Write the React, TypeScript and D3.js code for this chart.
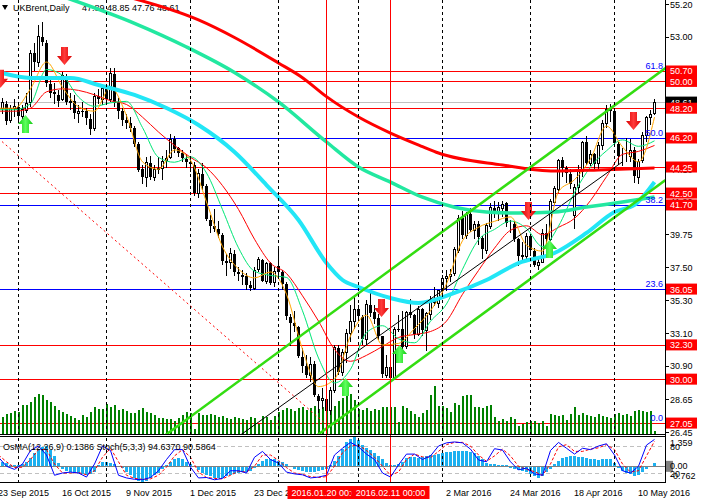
import React from "react";
import * as d3 from "d3";

// daily bars, UKBrent, 24 Sep 2015 .. 16 May 2016 (index 0 = first visible bar)
const opens = [
  47.7, 48.2, 48.5, 47.4, 48.2, 48.3, 47.7, 48.1, 48.6, 51.9,
  51.3, 53.0, 52.6, 49.8, 49.3, 49.1, 48.8, 50.3, 48.6, 48.7,
  47.9, 48.0, 48.0, 47.5, 46.9, 49.0, 48.8, 49.5, 48.8, 50.5,
  48.6, 48.0, 47.4, 47.2, 46.9, 45.8, 44.1, 43.6, 44.5, 43.6,
  44.1, 44.2, 44.7, 44.9, 46.1, 45.5, 45.2, 44.8, 44.6, 44.4,
  42.5, 43.8, 43.0, 40.7, 40.3, 40.1, 39.7, 37.9, 37.9, 38.4,
  37.2, 37.0, 36.9, 36.3, 36.1, 37.4, 38.0, 36.6, 37.8, 36.5,
  37.6, 37.2, 36.4, 34.2, 33.8, 33.5, 31.5, 30.9, 30.3, 31.0,
  28.9, 28.6, 28.7, 27.9, 29.3, 32.1, 30.5, 31.8, 33.1, 33.9,
  34.7, 34.2, 32.7, 35.0, 34.5, 34.1, 32.9, 30.3, 30.8, 30.1,
  33.4, 33.4, 32.2, 34.5, 34.3, 33.0, 34.7, 33.3, 34.4, 35.3,
  35.1, 36.0, 36.8, 36.9, 37.1, 38.7, 40.8, 39.7, 41.1, 40.0,
  40.4, 39.5, 38.7, 40.3, 41.5, 41.2, 41.5, 41.8, 40.4, 40.4,
  39.4, 38.3, 38.3, 39.6, 38.6, 37.7, 37.9, 39.8, 39.4, 41.9,
  42.8, 44.7, 44.2, 43.8, 41.0, 42.9, 44.0, 45.9, 44.5, 45.1,
  44.5, 45.7, 47.2, 48.1, 48.0, 45.8, 45.0, 45.0, 45.0, 45.4,
  43.6, 44.7, 46.4, 47.6, 47.89,
];
const highs = [
  48.4, 48.9, 48.7, 48.4, 48.8, 48.6, 48.4, 49.2, 52.1, 52.6,
  53.8, 54.0, 52.8, 50.3, 49.9, 49.4, 50.6, 50.5, 49.2, 49.1,
  48.4, 48.6, 48.2, 47.8, 49.2, 49.5, 49.7, 49.8, 50.9, 50.9,
  48.9, 48.2, 47.8, 47.6, 47.0, 45.9, 44.4, 44.9, 45.0, 44.4,
  44.9, 45.0, 45.4, 46.5, 46.3, 45.6, 45.4, 45.1, 44.8, 44.6,
  44.1, 44.5, 43.1, 41.0, 41.4, 40.6, 39.8, 38.4, 38.8, 38.7,
  37.5, 37.3, 37.1, 36.6, 37.5, 38.2, 38.1, 37.9, 37.9, 37.5,
  38.9, 37.3, 36.5, 34.4, 34.6, 33.6, 32.1, 31.6, 31.5, 31.2,
  29.0, 29.4, 28.9, 29.5, 32.3, 32.3, 32.0, 33.4, 35.0, 35.5,
  35.0, 34.3, 35.3, 35.8, 35.0, 34.4, 32.9, 31.6, 31.2, 33.5,
  34.3, 34.6, 34.6, 35.4, 34.4, 34.9, 34.8, 34.5, 35.6, 36.2,
  36.0, 37.0, 37.3, 37.4, 38.9, 41.0, 41.3, 41.2, 41.5, 40.6,
  40.6, 39.6, 40.5, 41.8, 42.0, 41.9, 42.0, 41.9, 40.7, 40.6,
  39.5, 39.2, 39.8, 39.7, 38.8, 38.2, 40.1, 40.4, 42.1, 43.0,
  44.8, 44.9, 44.3, 44.1, 43.1, 44.4, 46.0, 46.3, 45.4, 45.2,
  45.9, 47.4, 48.4, 48.5, 48.1, 45.9, 45.5, 46.2, 46.1, 45.6,
  44.8, 46.6, 47.7, 48.1, 48.85,
];
const lows = [
  47.1, 47.8, 47.1, 47.2, 47.6, 47.4, 47.3, 47.9, 48.3, 50.7,
  51.0, 52.4, 49.6, 48.9, 48.5, 48.3, 48.7, 48.4, 48.1, 47.5,
  47.2, 47.6, 47.1, 46.4, 46.7, 48.5, 48.4, 48.5, 48.6, 48.3,
  47.5, 47.0, 46.8, 46.6, 45.6, 43.9, 43.1, 42.9, 43.4, 43.3,
  43.8, 43.4, 44.2, 44.8, 45.2, 44.9, 44.6, 44.2, 43.9, 42.3,
  42.2, 42.7, 40.6, 39.8, 39.9, 39.5, 37.7, 36.9, 37.4, 36.9,
  36.6, 36.3, 36.0, 35.9, 36.0, 37.2, 36.5, 36.4, 36.3, 36.2,
  36.8, 36.0, 34.0, 32.2, 33.2, 31.4, 30.4, 30.1, 29.8, 28.8,
  27.7, 28.0, 27.1, 27.6, 29.1, 30.3, 30.2, 31.1, 32.5, 33.4,
  33.9, 32.3, 32.3, 34.2, 33.7, 32.6, 30.1, 30.1, 30.0, 30.0,
  33.2, 31.9, 32.0, 34.1, 32.7, 32.9, 32.9, 31.9, 34.0, 34.9,
  34.8, 35.6, 35.9, 36.5, 36.9, 38.5, 39.4, 39.4, 39.9, 39.4,
  39.0, 38.1, 38.4, 40.1, 40.8, 40.6, 40.9, 40.2, 39.8, 39.2,
  37.6, 38.0, 38.0, 38.3, 37.5, 37.3, 37.8, 39.1, 39.3, 41.7,
  42.5, 43.6, 43.2, 42.8, 40.1, 42.5, 43.6, 44.4, 44.3, 44.0,
  44.1, 45.4, 46.9, 47.3, 45.7, 44.4, 44.3, 44.6, 44.6, 43.2,
  43.1, 44.5, 45.9, 47.1, 47.76,
];
const closes = [
  48.17, 48.60, 47.34, 48.23, 48.37, 47.69, 48.13, 48.53, 51.92, 51.33,
  53.05, 52.65, 49.86, 49.24, 49.15, 48.71, 50.46, 48.61, 48.71, 47.85,
  47.99, 47.99, 47.54, 46.81, 49.05, 48.80, 49.56, 48.79, 50.54, 48.58,
  47.98, 47.42, 47.19, 46.90, 45.81, 44.06, 43.61, 44.56, 43.57, 44.14,
  44.18, 44.66, 44.83, 46.12, 45.46, 45.20, 44.86, 44.61, 44.44, 42.49,
  43.84, 43.00, 40.73, 40.26, 40.11, 39.73, 37.93, 37.92, 38.45, 37.19,
  37.06, 36.88, 36.35, 36.11, 37.36, 38.10, 36.62, 37.79, 36.46, 37.28,
  37.22, 36.42, 34.23, 33.75, 33.55, 31.55, 30.86, 30.31, 31.03, 28.94,
  28.55, 28.76, 27.88, 29.25, 32.18, 30.50, 31.80, 33.10, 33.89, 34.74,
  34.24, 32.72, 35.04, 34.46, 34.06, 32.88, 30.32, 30.84, 30.06, 33.36,
  33.39, 32.18, 34.50, 34.28, 33.01, 34.69, 33.27, 34.41, 35.29, 35.10,
  35.97, 36.81, 36.93, 37.07, 38.72, 40.84, 39.65, 41.07, 40.05, 40.39,
  39.53, 38.74, 40.33, 41.54, 41.20, 41.54, 41.79, 40.47, 40.44, 39.39,
  38.29, 38.32, 39.60, 38.67, 37.69, 37.87, 39.84, 39.43, 41.94, 42.83,
  44.69, 44.18, 43.84, 43.10, 42.91, 44.03, 45.90, 44.53, 45.11, 44.48,
  45.74, 47.18, 48.14, 48.13, 45.83, 44.97, 45.01, 45.01, 45.37, 43.63,
  44.66, 46.41, 47.59, 47.83, 48.61,
];
const volumes = [
  16, 17, 20, 21, 23, 22, 29, 29, 32, 37,
  40, 39, 34, 32, 28, 24, 22, 20, 18, 16,
  14, 19, 17, 22, 27, 25, 25, 30, 27, 29,
  24, 25, 23, 21, 21, 24, 26, 22, 21, 19,
  16, 16, 15, 15, 13, 16, 19, 22, 21, 5,
  21, 19, 19, 20, 19, 17, 18, 16, 15, 17,
  16, 15, 14, 17, 16, 10, 18, 17, 14, 18,
  22, 24, 26, 25, 23, 26, 27, 24, 26, 28,
  25, 27, 29, 30, 28, 33, 36, 38, 40, 34,
  25, 24, 26, 23, 25, 24, 27, 27, 27, 27,
  12, 28, 26, 23, 20, 17, 21, 24, 39, 48,
  28, 28, 26, 22, 31, 29, 38, 39, 39, 27,
  27, 26, 28, 29, 17, 13, 15, 13, 17, 15,
  8, 10, 12, 13, 13, 11, 13, 8, 20, 19,
  18, 19, 14, 20, 27, 19, 21, 19, 18, 17,
  20, 18, 17, 16, 20, 21, 19, 20, 18, 23,
  24, 23, 22, 23, 3,
];
const osmaValues = [
  0.19, 0.19, 0.15, 0.05, 0.02, 0.02, 0.1, 0.2, 0.35, 0.6,
  0.8, 0.9, 0.95, 0.75, 0.45, 0.15, -0.15, -0.25, -0.3, -0.35,
  -0.35, -0.4, -0.45, -0.4, -0.3, 0.05, 0.2, 0.2, 0.15, 0.1,
  0.0, -0.1, -0.3, -0.45, -0.55, -0.7, -0.76, -0.7, -0.55, -0.45,
  -0.35, -0.15, 0.05, 0.2, 0.3, 0.35, 0.3, 0.2, 0.1, -0.05,
  -0.2, -0.35, -0.45, -0.5, -0.55, -0.55, -0.55, -0.5, -0.45, -0.4,
  -0.35, -0.3, -0.3, -0.25, -0.1, 0.1, 0.25, 0.3, 0.3, 0.3,
  0.25, 0.2, 0.1, -0.05, -0.15, -0.2, -0.25, -0.3, -0.3, -0.3,
  -0.25, -0.2, -0.15, 0.05, 0.25, 0.45, 0.8, 1.1, 1.25, 1.359,
  1.2, 1.0, 0.85, 0.75, 0.6, 0.45, 0.3, 0.15, 0.05, 0.02,
  0.1, 0.2, 0.35, 0.4, 0.4, 0.35, 0.4, 0.45, 0.5, 0.5,
  0.55, 0.6, 0.65, 0.65, 0.7, 0.72, 0.72, 0.7, 0.65, 0.6,
  0.45, 0.3, 0.15, 0.1, 0.08, 0.06, 0.05, 0.02, -0.1, -0.15,
  -0.2, -0.25, -0.3, -0.4, -0.5, -0.55, -0.5, -0.3, -0.15, 0.1,
  0.25, 0.35, 0.4, 0.45, 0.45, 0.42, 0.4, 0.35, 0.33, 0.3,
  0.28, 0.3, 0.32, 0.3, 0.15, -0.1, -0.25, -0.35, -0.4, -0.5,
  -0.45, -0.3, -0.15, -0.05, 0.14,
];
// stochastic, read every 2nd bar
const stochStep = 2;
const stochMain = [
  55, 35, 28, 40, 70, 80, 60, 15, 20, 22, 20, 11, 40, 80, 70, 15, 9, 6, 5, 10,
  25, 50, 72, 72, 33, 9, 10, 5, 8, 25, 25, 20, 55, 68, 50, 42, 22, 18, 16, 9,
  11, 15, 60, 75, 88, 78, 62, 50, 20, 11, 38, 62, 62, 50, 58, 80, 87, 89, 87, 73,
  49, 45, 74, 71, 45, 27, 31, 18, 15, 70, 88, 75, 62, 75, 72, 80, 85, 60, 25, 20,
  35, 82, 94.6,
];
const stochSignal = [
  60, 45, 32, 33, 50, 72, 72, 40, 20, 20, 21, 16, 25, 55, 75, 45, 15, 8, 6, 7,
  15, 33, 58, 72, 55, 22, 10, 8, 7, 15, 24, 22, 35, 60, 60, 48, 32, 20, 17, 12,
  10, 12, 35, 65, 80, 82, 70, 55, 35, 15, 22, 50, 62, 56, 54, 68, 83, 88, 88, 80,
  60, 46, 58, 73, 58, 35, 28, 23, 15, 40, 78, 83, 68, 68, 73, 76, 83, 72, 40, 22,
  25, 58, 90.6,
];
// thin moving averages, read every 4th bar
const fastStep = 4;
const maOrange = [
  48.2, 48.2, 49.5, 51.3, 49.6, 48.3, 48.0, 49.6, 47.7, 44.6, 44.1, 45.4, 44.7, 41.9,
  38.9, 37.4, 36.8, 37.2, 35.7, 32.0, 29.5, 30.0, 32.9, 34.3, 32.3, 32.4, 33.4, 34.6,
  36.4, 39.3, 40.2, 40.6, 40.9, 39.0, 38.6, 42.6, 43.4, 44.8, 47.0, 45.6, 44.6, 47.6,
];
const maGreen = [
  48.1, 48.1, 48.5, 50.8, 50.4, 48.95, 48.33, 48.56, 48.66, 46.9, 44.9, 44.57, 44.93, 43.85,
  41.39, 38.82, 37.25, 36.97, 36.83, 34.59, 31.42, 29.75, 30.66, 33.13, 33.59, 32.71, 32.44, 33.89,
  35.05, 37.38, 39.36, 40.06, 40.62, 40.12, 38.9, 40.28, 42.53, 44.25, 45.34, 46.07, 45.64, 46.01,
];
const maRedThin = [
  48.0, 48.0, 48.2, 49.3, 49.5, 49.4, 49.1, 48.7, 48.45, 47.6, 46.6, 45.7, 44.9, 44.2,
  43.0, 41.4, 39.4, 37.8, 37.1, 35.6, 33.9, 32.0, 31.2, 31.6, 32.2, 32.8, 33.0, 33.2,
  33.9, 35.7, 37.3, 38.8, 40.0, 40.3, 39.7, 40.2, 40.8, 42.0, 43.6, 45.1, 45.3, 45.7,
];
// thick moving averages, read at bar positions
const ma200Idx = [32, 50, 59, 70, 76, 82, 90, 98, 106, 110, 126, 139, 150, 164];
const ma200Val = [55.7, 54.13, 52.95, 51.24, 50.25, 48.98, 47.61, 46.53, 45.62, 45.19, 44.39, 43.98, 44.05, 44.18];
const ma100Idx = [15, 34, 47, 59, 70, 82, 90, 98, 106, 114, 122, 130, 139, 147, 156, 164];
const ma100Val = [55.8, 53.9, 52.31, 50.6, 48.62, 45.93, 44.25, 43.24, 42.22, 41.55, 41.23, 41.16, 41.23, 41.56, 41.9, 42.24];
const ma50Idx = [0, 8, 18, 25, 34, 42, 50, 59, 67, 75, 82, 86, 90, 98, 105, 114, 122, 130, 139, 147, 154, 159, 164];
const ma50Val = [50.63, 50.23, 50.23, 49.76, 49.09, 48.21, 47.07, 45.26, 43.04, 40.69, 37.8, 36.66, 36.19, 35.45, 35.12, 35.79, 36.66, 37.8, 38.47, 39.82, 41.23, 41.7, 43.24];

// drawn objects (bar index, price)
const channelUpper = [[41.75, 26.25], [166.75, 50.9]];
const channelLower = [[79.75, 26.25], [166.75, 43.38]];
const blackTrend = [[60.5, 26.25], [156, 44.6]];
const redTrend = [[-1, 46.4], [81.25, 27.12]];
const redLevels = [50.7, 50.0, 48.2, 44.25, 42.5, 32.3, 30.0, 27.05];
const levelLabels = [50.7, 50.0, 48.2, 46.2, 44.25, 42.5, 41.7, 36.05, 32.3, 30.0, 27.05];
const fibNames = ["61.8", "50.0", "38.2", "23.6", "0.0"];
const fibPrices = [50.7, 46.2, 41.7, 36.05, 27.05];
const bidPrice = 48.61;
const priceTicks = [55.2, 53.0, 50.75, 48.55, 46.3, 44.1, 41.9, 39.75, 37.5, 35.3, 33.1, 30.9, 28.65, 26.45];
const arrowIdx = [0.5, 6.75, 16.5, 86.75, 95.75, 100.25, 132.5, 137.75, 158.75];
const arrowPrice = [49.57, 47.74, 51.1, 30.08, 34.17, 32.3, 40.69, 39.35, 46.74];
const arrowUp = [false, true, false, true, false, true, false, true, false];
const monthStarts = [5, 27, 48, 70, 90, 111, 133, 154];
const dateTickIdx = [0, 16, 32, 48, 64, 112, 128, 144, 160];
const dateTickText = ["23 Sep 2015", "16 Oct 2015", "9 Nov 2015", "1 Dec 2015", "23 Dec 2015",
  "2 Mar 2016", "24 Mar 2016", "18 Apr 2016", "10 May 2016"];
const markerIdx = [82, 98];
const markerText = ["2016.01.20 00:00", "2016.02.11 00:00"];

const W = 702, H = 503;
const RIGHT = 665;
const MAIN_BOTTOM = 434;
const SUB_TOP = 437, SUB_BOTTOM = 482;
const FONT = "'Liberation Sans', Arial, sans-serif";

const x = d3.scaleLinear().domain([0, 164]).range([-2, 654]);
const yP = d3.scaleLinear().domain([26.45, 55.2]).range([432, 4]);
const yV = d3.scaleLinear().domain([0, 50]).range([434, 384]);
const yO = d3.scaleLinear().domain([-0.762, 1.359]).range([SUB_BOTTOM, SUB_TOP]);
const yS = d3.scaleLinear().domain([0, 100]).range([SUB_BOTTOM, SUB_TOP]);

const smooth = d3.line<number[]>().x(d => x(d[0]) + 0.5).y(d => yP(d[1])).curve(d3.curveMonotoneX);
const straight = d3.line<number[]>().x(d => x(d[0]) + 0.5).y(d => yP(d[1]));
const stochLine = d3.line<number[]>().x(d => x(d[0]) + 0.5).y(d => yS(d[1]));

const pairs = (idx: number[], val: number[]) => idx.map((v, k) => [v, val[k]]);
const stepped = (vals: number[], step: number) => vals.map((v, k) => [k * step, v]);
const crisp = (v: number) => Math.round(v) + 0.5;

function Arrow({ i, p, up }: { i: number; p: number; up: boolean }) {
  const cx = x(i) + 0.5;
  const ty = yP(p);
  const s = up ? 1 : -1;
  const pts = [[0, 0], [-7.5, 9], [-3.5, 9], [-3.5, 18], [3.5, 18], [3.5, 9], [7.5, 9]]
    .map(q => `${cx + q[0]},${ty + s * q[1]}`).join(" ");
  return <polygon points={pts} fill={up ? "url(#gArrow)" : "url(#rArrow)"} />;
}

export default function App() {
  const n = closes.length;
  const bars = d3.range(n);
  return (
    <svg width={W} height={H} style={{ position: "absolute", left: 0, top: 0, background: "#fff" }}
      fontFamily={FONT} fontSize={9}>
      <defs>
        <clipPath id="mainClip"><rect x={0} y={0} width={RIGHT} height={MAIN_BOTTOM} /></clipPath>
        <clipPath id="subClip"><rect x={0} y={SUB_TOP} width={RIGHT} height={SUB_BOTTOM - SUB_TOP} /></clipPath>
        <linearGradient id="rArrow" x1="0" x2="1" y1="0" y2="0">
          <stop offset="0" stopColor="#d80000" /><stop offset="0.5" stopColor="#ff3a3a" /><stop offset="1" stopColor="#d80000" />
        </linearGradient>
        <linearGradient id="gArrow" x1="0" x2="1" y1="0" y2="0">
          <stop offset="0" stopColor="#10c810" /><stop offset="0.5" stopColor="#5cff5c" /><stop offset="1" stopColor="#10c810" />
        </linearGradient>
      </defs>

      {/* header */}
      <polygon points="2,5 8,5 5,10" fill="#000" />
      <text x={13} y={11} fill="#000">UKBrent,Daily</text>
      <text x={82} y={11} fill="#000">47.89 48.85 47.76 48.61</text>

      <g clipPath="url(#mainClip)">
        {/* horizontal levels */}
        {fibPrices.map((p, k) => (
          <line key={"fb" + k} x1={0} x2={RIGHT} y1={crisp(yP(p))} y2={crisp(yP(p))} stroke="#0000ff" />
        ))}
        <line x1={0} x2={RIGHT} y1={crisp(yP(bidPrice))} y2={crisp(yP(bidPrice))} stroke="#c0c0c0" />
        {redLevels.map((p, k) => (
          <line key={"rl" + k} x1={0} x2={RIGHT} y1={crisp(yP(p))} y2={crisp(yP(p))} stroke="#ff0000" />
        ))}

        {/* volumes */}
        {bars.map(i => (
          <rect key={"v" + i} x={x(i)} y={yV(volumes[i])} width={2} height={yV(0) - yV(volumes[i])}
            fill="#008000" shapeRendering="crispEdges" />
        ))}

        {/* candles */}
        {bars.map(i => {
          const X = x(i);
          const o = yP(opens[i]), c = yP(closes[i]);
          const up = closes[i] >= opens[i];
          const top = Math.round(Math.min(o, c)), bot = Math.round(Math.max(o, c));
          return (
            <g key={"c" + i} shapeRendering="crispEdges">
              <line x1={X + 0.5} x2={X + 0.5} y1={Math.round(yP(highs[i]))} y2={Math.round(yP(lows[i]))} stroke="#000" />
              {up
                ? <rect x={X - 0.5} y={top + 0.5} width={2} height={Math.max(bot - top, 0)} fill="#fff" stroke="#000" />
                : <rect x={X - 1} y={top} width={3} height={Math.max(bot - top, 1)} fill="#000" />}
            </g>
          );
        })}

        {/* thin moving averages */}
        <path d={smooth(stepped(maRedThin, fastStep)) || ""} fill="none" stroke="#ff0000" strokeWidth={1} />
        <path d={smooth(stepped(maGreen, fastStep)) || ""} fill="none" stroke="#00e676" strokeWidth={1} />
        <path d={smooth(stepped(maOrange, fastStep)) || ""} fill="none" stroke="#ffa500" strokeWidth={1} />

        {/* thick moving averages */}
        <path d={smooth(pairs(ma50Idx, ma50Val)) || ""} fill="none" stroke="#22e6f6" strokeWidth={4} />
        <path d={smooth(pairs(ma100Idx, ma100Val)) || ""} fill="none" stroke="#22e8a0" strokeWidth={3.5} />
        <path d={smooth(pairs(ma200Idx, ma200Val)) || ""} fill="none" stroke="#ff0000" strokeWidth={3} />

        {/* trend lines */}
        <path d={straight(redTrend) || ""} fill="none" stroke="#ff0000" strokeDasharray="2,3" />
        <path d={straight(blackTrend) || ""} fill="none" stroke="#000" strokeWidth={1} />
        <path d={straight(channelUpper) || ""} fill="none" stroke="#33dd11" strokeWidth={2.5} />
        <path d={straight(channelLower) || ""} fill="none" stroke="#33dd11" strokeWidth={2.5} />

        {/* signal arrows */}
        {arrowIdx.map((i, k) => <Arrow key={"a" + k} i={i} p={arrowPrice[k]} up={arrowUp[k]} />)}

        {/* fibo labels */}
        {fibNames.map((t, k) => (
          <text key={"ft" + k} x={663} y={yP(fibPrices[k]) - 2} textAnchor="end" fill="#0000ff">{t}</text>
        ))}
      </g>

      {/* oscillator pane */}
      <g clipPath="url(#subClip)">
        <line x1={0} x2={RIGHT} y1={crisp(yS(80))} y2={crisp(yS(80))} stroke="#c0c0c0" strokeDasharray="4,3" />
        <line x1={0} x2={RIGHT} y1={crisp(yS(20))} y2={crisp(yS(20))} stroke="#c0c0c0" strokeDasharray="4,3" />
        {bars.map(i => {
          const v = osmaValues[i];
          const y0 = yO(0), y1 = yO(v);
          return (
            <rect key={"o" + i} x={x(i) - 1} y={Math.min(y0, y1)} width={3} height={Math.abs(y1 - y0)}
              fill="#1cb0f0" shapeRendering="crispEdges" />
          );
        })}
        <line x1={0} x2={RIGHT} y1={crisp(yO(0))} y2={crisp(yO(0))} stroke="#808080" />
        <path d={stochLine(stepped(stochSignal, stochStep)) || ""} fill="none" stroke="#ff0000" strokeDasharray="3,2" />
        <path d={stochLine(stepped(stochMain, stochStep)) || ""} fill="none" stroke="#0000ff" />
        <text x={3} y={450} fill="#000">OsMA(12,26,9) 0.1386  Stoch(5,3,3) 94.6370 90.5864</text>
      </g>

      {/* period separators and vertical markers */}
      {monthStarts.map(i => (
        <line key={"m" + i} x1={x(i) + 0.5} x2={x(i) + 0.5} y1={0} y2={SUB_BOTTOM} stroke="#000" strokeDasharray="3,3" />
      ))}
      {markerIdx.map(i => (
        <line key={"mk" + i} x1={x(i) + 0.5} x2={x(i) + 0.5} y1={0} y2={SUB_BOTTOM} stroke="#ff0000" />
      ))}

      {/* pane frames */}
      <g stroke="#000" shapeRendering="crispEdges">
        <line x1={0} x2={RIGHT} y1={MAIN_BOTTOM + 0.5} y2={MAIN_BOTTOM + 0.5} />
        <line x1={0} x2={RIGHT} y1={SUB_TOP - 0.5} y2={SUB_TOP - 0.5} />
        <line x1={0} x2={RIGHT} y1={SUB_BOTTOM + 0.5} y2={SUB_BOTTOM + 0.5} />
        <line x1={RIGHT + 0.5} x2={RIGHT + 0.5} y1={0} y2={SUB_BOTTOM + 0.5} />
      </g>

      {/* price axis */}
      {priceTicks.map(p => (
        <g key={"pt" + p}>
          <line x1={RIGHT} x2={RIGHT + 4} y1={crisp(yP(p))} y2={crisp(yP(p))} stroke="#000" />
          <text x={670} y={yP(p) + 3.5} fill="#000">{p.toFixed(2)}</text>
        </g>
      ))}
      <rect x={666} y={yP(bidPrice) - 5.5} width={31} height={11} fill="#000" />
      <text x={670} y={yP(bidPrice) + 3.5} fill="#fff">{bidPrice.toFixed(2)}</text>
      {levelLabels.map(p => (
        <g key={"ll" + p}>
          <rect x={666} y={yP(p) - 5.5} width={31} height={11} fill="#ff0000" />
          <text x={670} y={yP(p) + 3.5} fill="#fff">{p.toFixed(2)}</text>
        </g>
      ))}

      {/* oscillator axis */}
      <text x={670} y={446} fill="#000">1.359</text>
      <text x={670} y={yS(80) + 3.5} fill="#000">80</text>
      <rect x={666} y={yO(0) - 5} width={7} height={11} fill="#808080" />
      <text x={670} y={yO(0) + 3.5} fill="#000">0.00</text>
      <text x={670} y={yS(20) + 3.5} fill="#000">20</text>
      <text x={670} y={479} fill="#000">-0.762</text>

      {/* time axis */}
      {dateTickIdx.map((i, k) => (
        <text key={"d" + k} x={x(i)} y={496} fill="#000">{dateTickText[k]}</text>
      ))}
      {markerIdx.map((i, k) => (
        <g key={"mb" + k}>
          <rect x={x(i) + 0.5 - 39} y={486} width={78} height={13} fill="#ff0000" />
          <text x={x(i) + 0.5} y={496} textAnchor="middle" fill="#fff">{markerText[k]}</text>
        </g>
      ))}
    </svg>
  );
}
